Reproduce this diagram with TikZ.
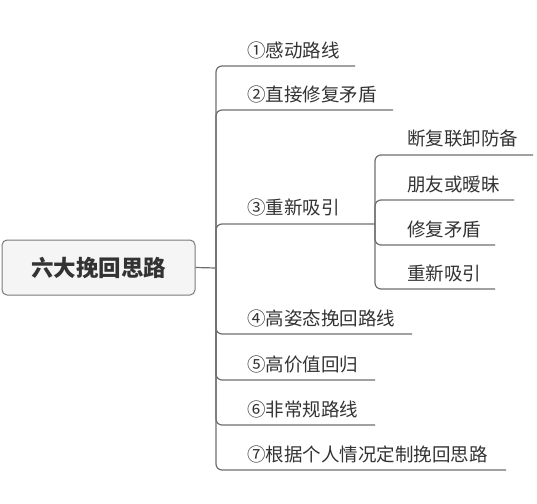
\documentclass[tikz,border=0pt]{standalone}
\usepackage{fontspec}
\setmainfont{Noto Sans CJK SC}
\definecolor{txt}{HTML}{333333}
\definecolor{ln}{HTML}{6E6E6E}
\definecolor{rootfill}{HTML}{F5F5F5}
\definecolor{rootdraw}{HTML}{7A7A7A}
\tikzset{
  lab/.style={anchor=base west, inner sep=0pt, text=txt, font=\fontsize{18.5}{20}\selectfont},
  rootbox/.style={draw=rootdraw, line width=1pt, fill=rootfill, rounded corners=5pt, minimum width=193, minimum height=55, inner sep=0pt, text=txt, font=\fontsize{22.5}{24}\selectfont\bfseries},
  conn/.style={draw=ln, line width=1.2pt, rounded corners=6pt}
}
\begin{document}
\begin{tikzpicture}[x=1pt,y=-1pt]
\useasboundingbox (0,0) rectangle (537,503);
% root
\node[rootbox] (root) at (98.5,267.5) {六大挽回思路};
\coordinate (j) at (216,268);
% branch labels
\node[lab] (b1) at (247,57) {①感动路线};
\node[lab] (b2) at (247,101) {②直接修复矛盾};
\node[lab] (b3) at (247,214) {③重新吸引};
\node[lab] (b4) at (247,325) {④高姿态挽回路线};
\node[lab] (b5) at (247,371) {⑤高价值回归};
\node[lab] (b6) at (247,416) {⑥非常规路线};
\node[lab] (b7) at (247,461) {⑦根据个人情况定制挽回思路};
\coordinate (e1) at (355,66);
\coordinate (e2) at (393,110);
\coordinate (s) at (375,224);
\coordinate (e4) at (412,334);
\coordinate (e5) at (375,380);
\coordinate (e6) at (375,425);
\coordinate (e7) at (506,470);
% sub labels
\node[lab] (c1) at (407,145) {断复联卸防备};
\node[lab] (c2) at (407,191) {朋友或暧昧};
\node[lab] (c3) at (407,236) {修复矛盾};
\node[lab] (c4) at (407,280) {重新吸引};
\coordinate (f1) at (533,155);
\coordinate (f2) at (514,200);
\coordinate (f3) at (495,245);
\coordinate (f4) at (495,289);
% connectors
\draw[conn] (root.east) -- (j);
\foreach \e in {e1,e2,s,e4,e5,e6,e7} \draw[conn] (j) |- (\e);
\foreach \f in {f1,f2,f3,f4} \draw[conn] (s) |- (\f);
\end{tikzpicture}
\end{document}
